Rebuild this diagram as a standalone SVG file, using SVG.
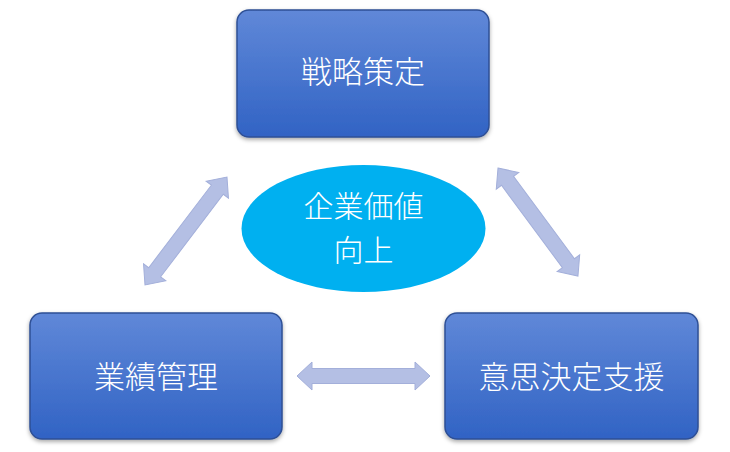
<svg xmlns="http://www.w3.org/2000/svg" width="730" height="452" viewBox="0 0 730 452">
<defs>
<linearGradient id="boxFill" x1="0" y1="0" x2="0" y2="1">
<stop offset="0" stop-color="#6088D8"/>
<stop offset="1" stop-color="#3163C4"/>
</linearGradient>
<linearGradient id="edgeHi" x1="0" y1="0" x2="0" y2="1">
<stop offset="0" stop-color="#9CC0F4" stop-opacity="0.3"/>
<stop offset="0.5" stop-color="#B0D0FA" stop-opacity="1"/>
<stop offset="1" stop-color="#9CC0F4" stop-opacity="0.3"/>
</linearGradient>
<filter id="shadow" x="-10%" y="-10%" width="120%" height="130%">
<feDropShadow dx="0" dy="2" stdDeviation="2" flood-color="#000" flood-opacity="0.35"/>
</filter>
<style>
.box{fill:url(#boxFill);stroke:#2E4F95;stroke-width:1.5;filter:url(#shadow)}
.hi{fill:none;stroke:url(#edgeHi);stroke-width:2.5;stroke-linecap:round}
.lbl{font-family:"Noto Sans CJK JP","Noto Sans",sans-serif;font-size:31px;font-weight:300;fill:#FFFFFF;text-anchor:middle}
.arr{fill:#B4BFE4;stroke:#A3AFDA;stroke-width:1}
</style>
</defs>
<rect width="730" height="452" fill="#FFFFFF"/>
<g id="connectors">
<polygon class="arr" transform="translate(297,376)" points="0,0 15,-14 15,-7.5 118,-7.5 118,-14 133,0 118,14 118,7.5 15,7.5 15,14"/>
<polygon class="arr" transform="translate(145,285) rotate(-52.8)" points="0,0 16,-14 16,-7.5 119.6,-7.5 119.6,-14 135.6,0 119.6,14 119.6,7.5 16,7.5 16,14"/>
<polygon class="arr" transform="translate(498,168) rotate(53.5)" points="0,0 16,-14 16,-7.5 118.4,-7.5 118.4,-14 134.4,0 118.4,14 118.4,7.5 16,7.5 16,14"/>
</g>
<g id="node-strategy">
<rect class="box" x="237" y="10" width="252" height="127" rx="12"/>
<line class="hi" x1="245" y1="25" x2="245" y2="122"/>
<line class="hi" x1="481" y1="25" x2="481" y2="122"/>
<text class="lbl" x="363" y="83">戦略策定</text>
</g>
<g id="node-value">
<ellipse cx="363.5" cy="228.5" rx="122" ry="63.5" fill="#00B0F0"/>
<text class="lbl" style="font-size:30px"><tspan x="363.5" y="217">企業価値</tspan><tspan x="363.5" y="261">向上</tspan></text>
</g>
<g id="node-performance">
<rect class="box" x="30" y="313" width="252" height="126" rx="12"/>
<line class="hi" x1="38" y1="328" x2="38" y2="424"/>
<line class="hi" x1="274" y1="328" x2="274" y2="424"/>
<text class="lbl" x="156" y="388">業績管理</text>
</g>
<g id="node-decision">
<rect class="box" x="445" y="313" width="253" height="126" rx="12"/>
<line class="hi" x1="453" y1="328" x2="453" y2="424"/>
<line class="hi" x1="690" y1="328" x2="690" y2="424"/>
<text class="lbl" x="571.5" y="388">意思決定支援</text>
</g>
</svg>
